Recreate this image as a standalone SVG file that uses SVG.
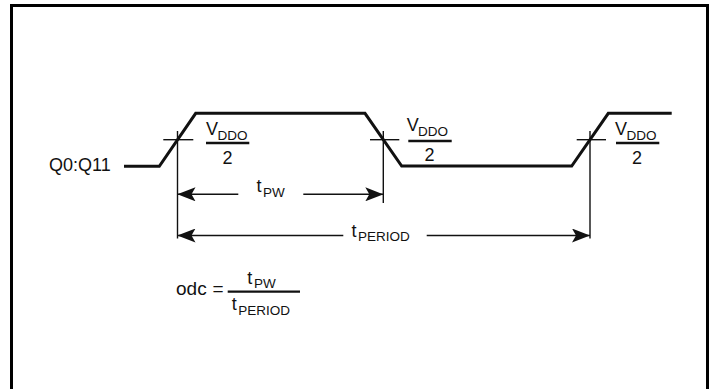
<svg xmlns="http://www.w3.org/2000/svg" width="712" height="389" viewBox="0 0 712 389">
<defs>
<style>
text{font-family:"Liberation Sans",Arial,sans-serif;fill:#111}
.m{font-size:18px}
.s{font-size:13.5px}
.wave{fill:none;stroke:#111;stroke-width:3;stroke-linejoin:miter}
.thin{fill:none;stroke:#111;stroke-width:1.4}
.dim{fill:none;stroke:#111;stroke-width:1.6}
.bar{stroke:#111;stroke-width:2.6}
</style>
<marker id="ah" viewBox="0 0 18 14" refX="18" refY="7" markerWidth="18" markerHeight="14" markerUnits="userSpaceOnUse" orient="auto-start-reverse">
<path d="M18,7 L0,0 L4,7 L0,14 Z" fill="#111"/>
</marker>
</defs>
<rect x="11.5" y="5.5" width="696" height="400" fill="#fff" stroke="#000" stroke-width="3"/>

<g id="signal-label"><text class="m" x="49" y="170.5">Q0:Q11</text></g>

<g id="waveform">
<path class="wave" d="M124,166.3 L159.3,166.3 L195.7,113.3 L365,113.3 L401.7,166 L571.7,166 L608.3,113.3 L671.7,113.3"/>
</g>

<g id="threshold-1">
<line class="thin" x1="163.3" y1="139.7" x2="193.3" y2="139.7"/>
<text class="m" x="206" y="134.5">V</text><text class="s" x="217.5" y="139.5">DDO</text>
<line class="bar" x1="206" y1="143" x2="249.3" y2="143"/>
<text class="m" x="227.5" y="163.5" text-anchor="middle">2</text>
</g>

<g id="threshold-2">
<line class="thin" x1="370" y1="139.7" x2="399.3" y2="139.7"/>
<text class="m" x="406.7" y="131">V</text><text class="s" x="418" y="136">DDO</text>
<line class="bar" x1="408.3" y1="141" x2="451.7" y2="141"/>
<text class="m" x="429.5" y="161" text-anchor="middle">2</text>
</g>

<g id="threshold-3">
<line class="thin" x1="576.7" y1="139.7" x2="606" y2="139.7"/>
<text class="m" x="615" y="134.5">V</text><text class="s" x="626.5" y="139.5">DDO</text>
<line class="bar" x1="616" y1="143" x2="659.3" y2="143"/>
<text class="m" x="637" y="163.5" text-anchor="middle">2</text>
</g>

<g id="connectors">
<line class="thin" x1="177.5" y1="131" x2="177.5" y2="238.5"/>
<line class="thin" x1="383.3" y1="131" x2="383.3" y2="203"/>
<line class="thin" x1="590" y1="131" x2="590" y2="238.5"/>
<line class="dim" x1="177.5" y1="194.3" x2="238.3" y2="194.3" marker-start="url(#ah)"/>
<line class="dim" x1="303.3" y1="194.3" x2="383.3" y2="194.3" marker-end="url(#ah)"/>
<line class="dim" x1="177.5" y1="235.5" x2="343.3" y2="235.5" marker-start="url(#ah)"/>
<line class="dim" x1="426.7" y1="235.5" x2="590" y2="235.5" marker-end="url(#ah)"/>
</g>

<g id="tpw-label"><text class="m" x="256.5" y="191.7">t</text><text class="s" x="263" y="196.7">PW</text></g>
<g id="tperiod-label"><text class="m" x="351.5" y="236.7">t</text><text class="s" x="358" y="241.2">PERIOD</text></g>

<g id="odc-formula">
<text class="m" x="176" y="295" style="font-size:19px">odc</text>
<text class="m" x="212.5" y="295" style="font-size:19px">=</text>
<line class="bar" x1="227.7" y1="291.7" x2="300" y2="291.7" style="stroke-width:2.2"/>
<text class="m" x="247.3" y="283.5">t</text><text class="s" x="254" y="288">PW</text>
<text class="m" x="231.7" y="310">t</text><text class="s" x="238.3" y="315">PERIOD</text>
</g>
</svg>
